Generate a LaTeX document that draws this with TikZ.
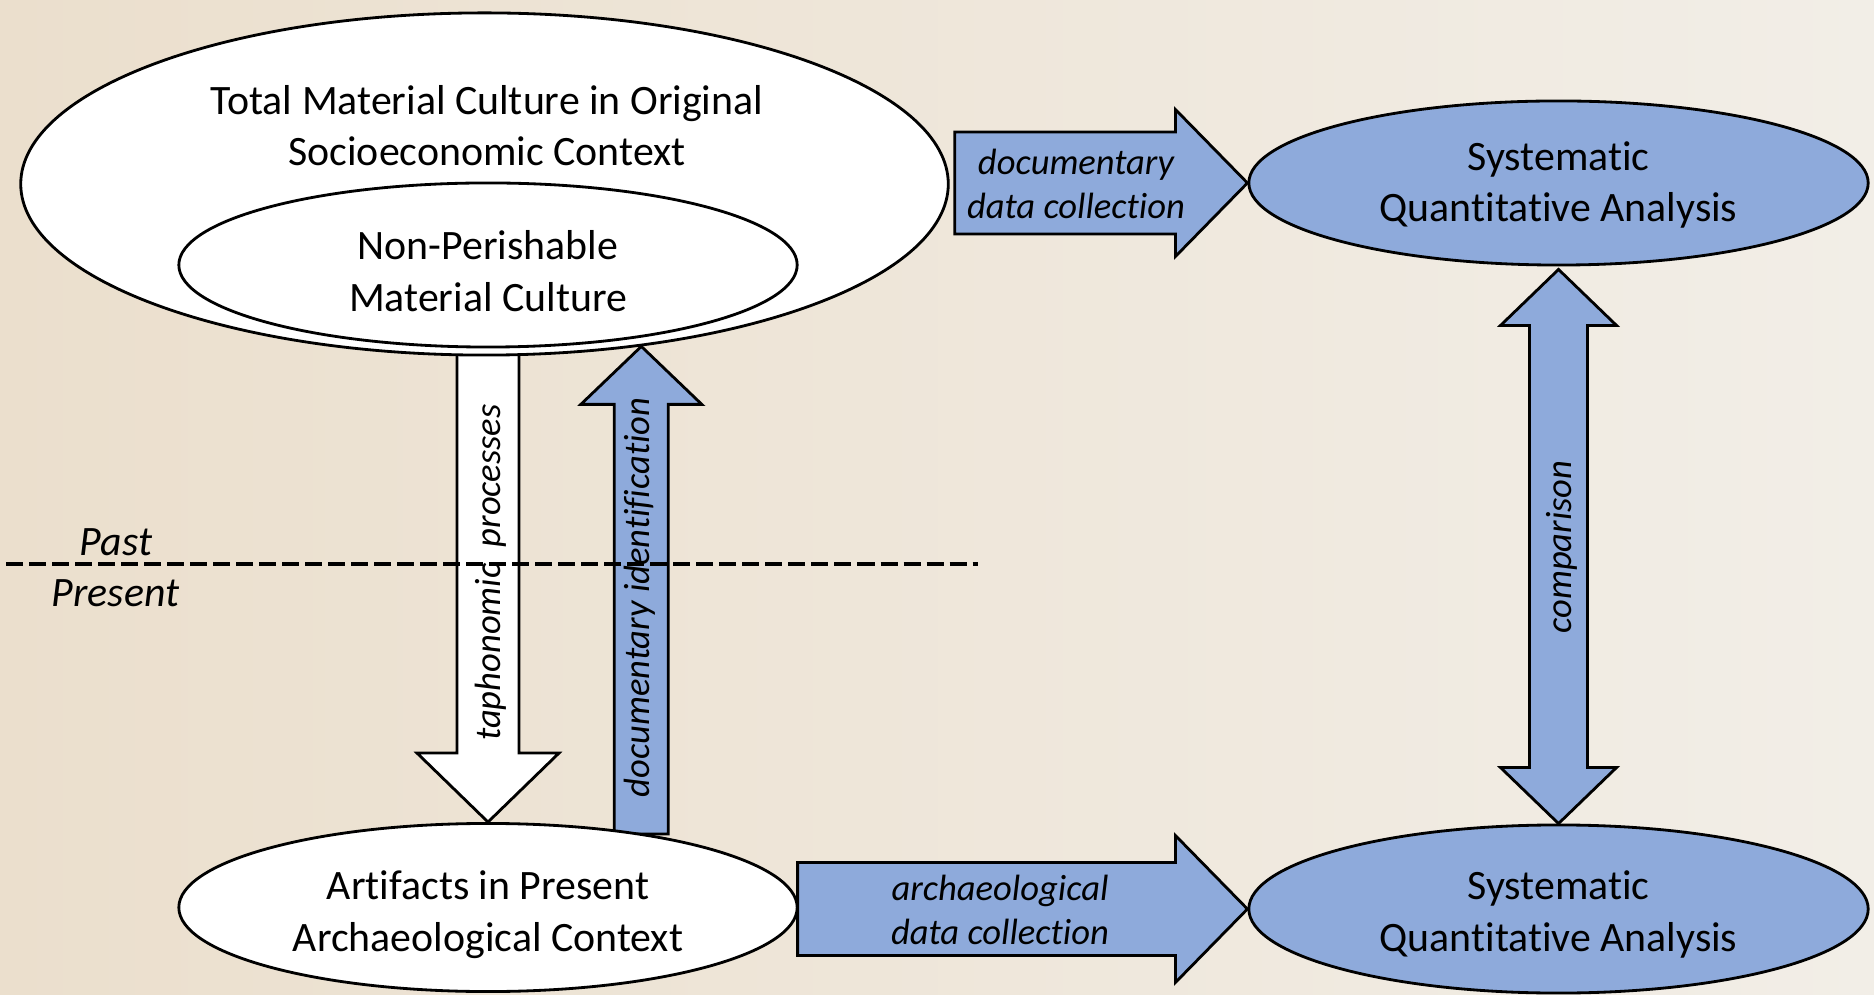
\documentclass[tikz,border=0pt]{standalone}
\usepackage{fontspec}
\setmainfont{Carlito}[Ligatures={NoCommon,NoContextual,NoRare},Contextuals=NoAlternate]
\usetikzlibrary{shapes.geometric,calc}
\pgfdeclarelayer{back}
\pgfdeclarelayer{arrows}
\pgfsetlayers{back,arrows,main}
\definecolor{blockblue}{RGB}{142,170,219}
\definecolor{bgL}{RGB}{235,223,205}
\definecolor{bgM}{RGB}{240,233,222}
\definecolor{bgR}{RGB}{242,238,231}
\newcommand\mainfnt{\fontsize{11.9}{14.7}\selectfont}
\newcommand\lblfnt{\fontsize{10.4}{12.7}\selectfont\itshape}
\tikzset{
  ell/.style={ellipse, draw=black, line width=0.8pt, inner sep=0pt},
  whiteell/.style={ell, fill=white},
  blueell/.style={ell, fill=blockblue},
  blockarrow/.style={draw=black, line width=0.8pt, line join=miter},
  bluearrow/.style={blockarrow, fill=blockblue},
  whitearrow/.style={blockarrow, fill=white},
  maintext/.style={font=\mainfnt, align=center},
  lbl/.style={font=\lblfnt, align=center},
  timetext/.style={font=\mainfnt\itshape, anchor=base},
  divider/.style={line width=0.9pt, dash pattern=on 0.17cm off 0.06cm}
}
\begin{document}
\begin{tikzpicture}[x=0.01cm, y=-0.01cm]
\useasboundingbox (0,0) rectangle (1874,995);
\begin{pgfonlayer}{back}
  \shade[left color=bgL, middle color=bgM, right color=bgR] (0,0) rectangle (1874,995);
\end{pgfonlayer}

% ellipses
\node[whiteell, minimum width=9.27cm, minimum height=3.42cm] (big) at (484.5,184) {};
\node[whiteell, minimum width=6.18cm, minimum height=1.64cm] (inner) at (488,265) {};
\node[whiteell, minimum width=6.18cm, minimum height=1.68cm] (art) at (488,907.5) {};
\node[blueell, minimum width=6.19cm, minimum height=1.64cm] (sqa1) at (1558.5,183) {};
\node[blueell, minimum width=6.19cm, minimum height=1.68cm] (sqa2) at (1558.5,909) {};

% ellipse texts
\node[maintext] (bigtxt) at (487,125.6) {Total Material Culture in Original\\Socioeconomic Context};
\node[maintext] (innertxt) at (488,271) {Non-Perishable\\Material Culture};
\node[maintext] (arttxt) at (488,914.5) {Artifacts in Present\\Archaeological Context};
\node[maintext] (sqa1txt) at (1558.5,185) {Systematic\\Quantitative Analysis};
\node[maintext] (sqa2txt) at (1558.5,914.5) {Systematic\\Quantitative Analysis};

% block arrows
\begin{pgfonlayer}{arrows}
  % documentary data collection
  \coordinate (t1) at (big.east |- sqa1.west);
  \draw[bluearrow] ($(t1)+(5,-51)$) -- ($(sqa1.west)+(-72,-51)$) -- ($(sqa1.west)+(-72,-73.5)$)
    -- (sqa1.west) -- ($(sqa1.west)+(-72,73.5)$) -- ($(sqa1.west)+(-72,51)$) -- ($(t1)+(5,51)$) -- cycle;
  % archaeological data collection
  \coordinate (t2) at (art.east |- sqa2.west);
  \draw[bluearrow] ($(t2)+(-1,-46.5)$) -- ($(sqa2.west)+(-72,-46.5)$) -- ($(sqa2.west)+(-72,-73.5)$)
    -- (sqa2.west) -- ($(sqa2.west)+(-72,73.5)$) -- ($(sqa2.west)+(-72,46.5)$) -- ($(t2)+(-1,46.5)$) -- cycle;
  % taphonomic processes
  \coordinate (t3) at (art.north |- big.south);
  \draw[whitearrow] ($(t3)+(-31,-5)$) -- ($(art.north)+(-31,-69)$) -- ($(art.north)+(-71,-69)$)
    -- (art.north) -- ($(art.north)+(71,-69)$) -- ($(art.north)+(31,-69)$) -- ($(t3)+(31,-5)$) -- cycle;
  % documentary identification
  \coordinate (ditip) at (big.-46);
  \coordinate (t4) at (ditip |- art.25.8);
  \draw[bluearrow] ($(t4)+(-27,0)$) -- ($(ditip)+(-27,58)$) -- ($(ditip)+(-60.5,58)$)
    -- (ditip) -- ($(ditip)+(60.5,58)$) -- ($(ditip)+(27,58)$) -- ($(t4)+(27,0)$) -- cycle;
  % comparison
  \coordinate (ct) at ($(sqa1.south)+(0,3)$);
  \draw[bluearrow] (ct) -- ($(ct)+(58,56)$) -- ($(ct)+(29,56)$) -- ($(sqa2.north)+(29,-56)$)
    -- ($(sqa2.north)+(58,-56)$) -- (sqa2.north) -- ($(sqa2.north)+(-58,-56)$)
    -- ($(sqa2.north)+(-29,-56)$) -- ($(ct)+(-29,56)$) -- ($(ct)+(-58,56)$) -- cycle;
\end{pgfonlayer}

% arrow labels
\node[lbl] (ddc) at (1076,184) {documentary\\data collection};
\node[lbl] (adc) at (1000,910) {archaeological\\data collection};
\node[lbl, rotate=90] (tap) at (491,572.5) {taphonomic~~processes};
\node[lbl, rotate=90] (did) at (640,597.5) {documentary identification};
\node[lbl, rotate=90] (cmp) at (1562,547) {comparison};

% past / present
\node[timetext] (past) at (116,555.5) {Past};
\node[timetext] (present) at (115.5,606.5) {Present};
\coordinate (dl1) at (6,564);
\coordinate (dl2) at (978,564);
\draw[divider] (dl1) -- (dl2);
\end{tikzpicture}
\end{document}
